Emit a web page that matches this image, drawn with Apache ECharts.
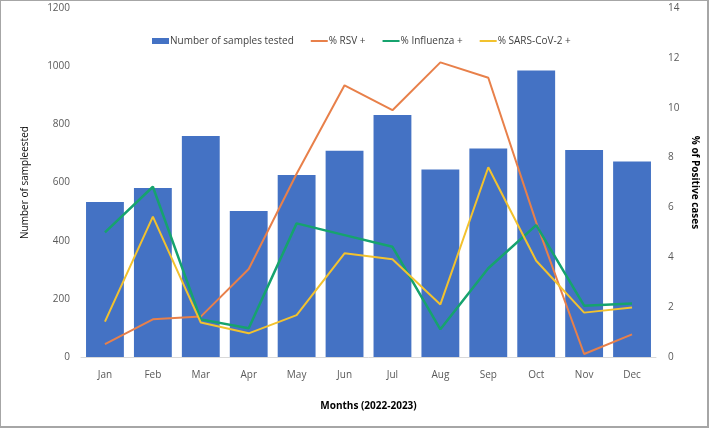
<!DOCTYPE html>
<html>
<head>
<meta charset="utf-8">
<script src="https://cdn.jsdelivr.net/npm/echarts@6/dist/echarts.min.js"></script>
<style>
  html, body { margin: 0; padding: 0; background: #fff; }
  #chart { width: 709px; height: 428px; }
</style>
</head>
<body>
<div id="chart"></div>
<script>
// months and values
const months = ['Jan', 'Feb', 'Mar', 'Apr', 'May', 'Jun', 'Jul', 'Aug', 'Sep', 'Oct', 'Nov', 'Dec'];
const samplesTested = [533, 581, 760, 502, 626, 709, 832, 645, 717, 985, 712, 672];
const rsvPos = [0.52, 1.51, 1.62, 3.53, 7.35, 10.9, 9.9, 11.82, 11.2, 5.4, 0.12, 0.91];
const fluPos = [5.0, 6.83, 1.51, 1.15, 5.36, 4.89, 4.42, 1.11, 3.56, 5.29, 2.06, 2.15];
const covPos = [1.42, 5.63, 1.38, 0.95, 1.68, 4.16, 3.92, 2.11, 7.61, 3.86, 1.78, 1.99];

const font = 'Open Sans';
const labelGrey = '#595959';
const lineIcon = 'path://M0,0H17V2H0Z';

let chart = echarts.init(document.getElementById('chart'));
let option = {
  backgroundColor: '#fff',
  animation: false,
  textStyle: { fontFamily: font },
  graphic: [{
    type: 'rect',
    shape: { x: 0, y: 0, width: 708, height: 427 },
    style: { fill: 'none', stroke: '#a6a6a6', lineWidth: 2 },
    silent: true
  }],
  legend: {
    left: 147,
    top: 31,
    itemGap: 17,
    itemWidth: 17,
    itemHeight: 6,
    textStyle: { color: '#404040', fontSize: 10, fontFamily: font, padding: [0, 0, 0, -4] },
    data: [
      { name: 'Number of samples tested', icon: 'rect' },
      { name: '% RSV +', icon: lineIcon },
      { name: '% Influenza +', icon: lineIcon },
      { name: '% SARS-CoV-2 +', icon: lineIcon }
    ]
  },
  grid: { left: 81, right: 53, top: 8, bottom: 71 },
  xAxis: {
    type: 'category',
    data: months,
    name: 'Months (2022-2023)',
    nameLocation: 'middle',
    nameGap: 44,
    nameTextStyle: { color: '#000', fontWeight: 'bold', fontSize: 10, fontFamily: font },
    axisLine: { lineStyle: { color: '#d9d9d9', width: 1 } },
    axisTick: { show: false },
    axisLabel: { color: labelGrey, fontSize: 10, margin: 13 }
  },
  yAxis: [
    {
      type: 'value',
      min: 0, max: 1200, interval: 200,
      name: 'Number of sampleested',
      nameLocation: 'middle',
      nameGap: 51,
      nameTextStyle: { color: '#111', fontSize: 10, fontFamily: font },
      axisLine: { show: false },
      axisTick: { show: false },
      splitLine: { show: false },
      axisLabel: { color: labelGrey, fontSize: 10, margin: 11, formatter: v => String(v) }
    },
    {
      type: 'value',
      min: 0, max: 14, interval: 2,
      name: '% of Positive cases',
      nameLocation: 'middle',
      nameGap: 31,
      nameRotate: -90,
      nameTextStyle: { color: '#000', fontWeight: 'bold', fontSize: 10, fontFamily: font },
      axisLine: { show: false },
      axisTick: { show: false },
      splitLine: { show: false },
      axisLabel: { color: labelGrey, fontSize: 10, margin: 12 }
    }
  ],
  series: [
    {
      name: 'Number of samples tested',
      type: 'bar',
      data: samplesTested,
      barCategoryGap: '21%',
      itemStyle: { color: '#4472C4' }
    },
    {
      name: '% RSV +',
      type: 'line',
      yAxisIndex: 1,
      data: rsvPos,
      symbol: 'none',
      lineStyle: { color: '#E8804A', width: 2 },
      itemStyle: { color: '#E8804A' }
    },
    {
      name: '% Influenza +',
      type: 'line',
      yAxisIndex: 1,
      data: fluPos,
      symbol: 'none',
      lineStyle: { color: '#16A36E', width: 2.5 },
      itemStyle: { color: '#16A36E' }
    },
    {
      name: '% SARS-CoV-2 +',
      type: 'line',
      yAxisIndex: 1,
      data: covPos,
      symbol: 'none',
      lineStyle: { color: '#F2C22E', width: 2 },
      itemStyle: { color: '#F2C22E' }
    }
  ]
};
chart.setOption(option);
</script>
</body>
</html>
